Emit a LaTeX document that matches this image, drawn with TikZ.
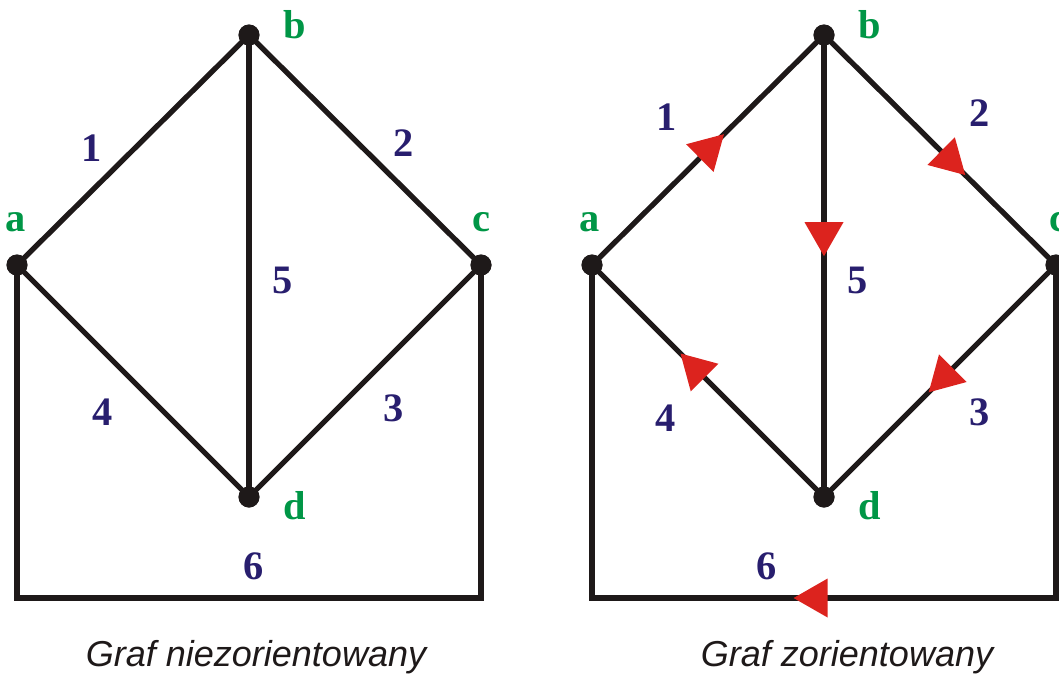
\documentclass[tikz,border=0pt]{standalone}
\usepackage{fontspec}
\setmainfont{Liberation Serif}
\newfontfamily\capfont{Liberation Sans}
\usetikzlibrary{decorations.markings}
\definecolor{vertGreen}{RGB}{0,150,70}
\definecolor{numNavy}{RGB}{40,30,110}
\definecolor{arrowRed}{RGB}{220,35,30}
\definecolor{edgeBlack}{RGB}{30,25,25}
\begin{document}
\begin{tikzpicture}[x=0.02cm, y=-0.02cm,
    vertStyle/.style={circle, fill=edgeBlack, inner sep=0pt, minimum size=0.42cm},
    vertLabelStyle/.style={text=vertGreen, font=\fontsize{23}{28}\selectfont\bfseries, inner sep=0pt},
    numStyle/.style={text=numNavy, font=\fontsize{23}{28}\selectfont\bfseries, inner sep=0pt},
    edgeStyle/.style={draw=edgeBlack, line width=3pt},
    captionStyle/.style={font=\fontsize{20.5}{25}\selectfont\capfont\itshape, text=edgeBlack, inner sep=0pt},
    arrowMark/.style={postaction={decorate, decoration={markings,
        mark=at position #1 with {\fill[arrowRed] (0.45cm,0) -- (-0.23cm,0.39cm) -- (-0.23cm,-0.39cm) -- cycle;}}}}]
    \useasboundingbox (0,0) rectangle (1059,674);

    % Undirected graph
    \node[vertStyle] (la) at (17,265) {};
    \node[vertStyle] (lb) at (249,35) {};
    \node[vertStyle] (lc) at (481,265) {};
    \node[vertStyle] (ld) at (249,497) {};
    \coordinate (la6) at (17,598);
    \coordinate (lc6) at (481,598);

    \draw[edgeStyle] (la.center) -- (lb.center);
    \draw[edgeStyle] (lb.center) -- (lc.center);
    \draw[edgeStyle] (lb.center) -- (ld.center);
    \draw[edgeStyle] (lc.center) -- (ld.center);
    \draw[edgeStyle] (ld.center) -- (la.center);
    \draw[edgeStyle] (lc.center) -- (lc6) -- (la6) -- (la.center);
    \node[vertStyle] at (la) {};
    \node[vertStyle] at (lb) {};
    \node[vertStyle] at (lc) {};
    \node[vertStyle] at (ld) {};

    \node[vertLabelStyle] (laT) at (16,222) {a};
    \node[vertLabelStyle] (lbT) at (295,25) {b};
    \node[vertLabelStyle] (lcT) at (481,222) {c};
    \node[vertLabelStyle] (ldT) at (295,506) {d};

    \node[numStyle] (l1) at (92,148) {1};
    \node[numStyle] (l2) at (404,143) {2};
    \node[numStyle] (l3) at (394,408) {3};
    \node[numStyle] (l4) at (103,412) {4};
    \node[numStyle] (l5) at (283,280) {5};
    \node[numStyle] (l6) at (254,566) {6};

    % Directed graph
    \node[vertStyle] (ra) at (592,265) {};
    \node[vertStyle] (rb) at (824,35) {};
    \node[vertStyle] (rc) at (1056,265) {};
    \node[vertStyle] (rd) at (824,497) {};
    \coordinate (ra6) at (592,598);
    \coordinate (rc6) at (1056,598);

    \draw[edgeStyle, arrowMark=0.5] (ra.center) -- (rb.center);
    \draw[edgeStyle, arrowMark=0.54] (rb.center) -- (rc.center);
    \draw[edgeStyle, arrowMark=0.43] (rb.center) -- (rd.center);
    \draw[edgeStyle, arrowMark=0.48] (rc.center) -- (rd.center);
    \draw[edgeStyle, arrowMark=0.55] (rd.center) -- (ra.center);
    \draw[edgeStyle, arrowMark=0.507] (rc.center) -- (rc6) -- (ra6) -- (ra.center);
    \node[vertStyle] at (ra) {};
    \node[vertStyle] at (rb) {};
    \node[vertStyle] at (rc) {};
    \node[vertStyle] at (rd) {};

    \node[vertLabelStyle] (raT) at (590,222) {a};
    \node[vertLabelStyle] (rbT) at (870,25) {b};
    \node[vertLabelStyle] (rcT) at (1058,222) {c};
    \node[vertLabelStyle] (rdT) at (870,506) {d};

    \node[numStyle] (r1) at (667,117) {1};
    \node[numStyle] (r2) at (980,113) {2};
    \node[numStyle] (r3) at (980,412) {3};
    \node[numStyle] (r4) at (666,418) {4};
    \node[numStyle] (r5) at (858,280) {5};
    \node[numStyle] (r6) at (767,566) {6};

    % Captions
    \node[captionStyle] (capL) at (256,657) {Graf niezorientowany};
    \node[captionStyle] (capR) at (847,657) {Graf zorientowany};
\end{tikzpicture}
\end{document}
